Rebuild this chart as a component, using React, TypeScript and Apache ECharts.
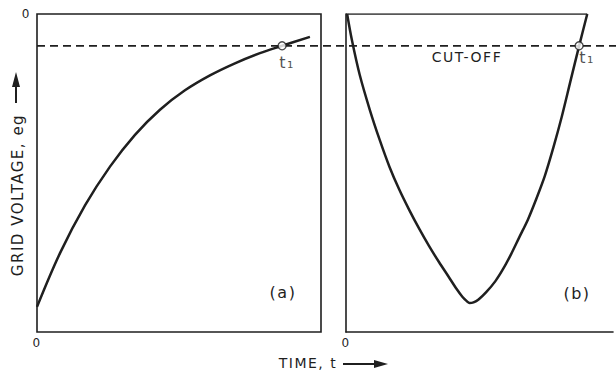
import React, { useEffect, useRef } from "react";
import * as echarts from "echarts";

// Panel (a): rise of grid voltage toward zero
const curveATime = [0, 0.81, 1.69, 2.57, 3.45, 4.33, 5.21, 6.09, 6.97, 7.85, 8.63, 9.61];
const curveAVolt = [-9.21, -7.52, -6.02, -4.8, -3.8, -3.01, -2.4, -1.93, -1.55, -1.23, -1.0, -0.72];

// Panel (b): swing of grid voltage down and back up
const curveBTime = [0.04, 0.21, 0.49, 0.85, 1.2, 1.55, 1.9, 2.25, 2.61, 2.96, 3.31, 3.66, 3.94, 4.15, 4.3, 4.4,
  4.54, 4.72, 5.0, 5.32, 5.6, 5.88, 6.16, 6.48, 6.76, 7.08, 7.39, 7.68, 7.99, 8.31, 8.59];
const curveBVolt = [0, -0.82, -1.92, -3.02, -3.96, -4.81, -5.53, -6.16, -6.76, -7.3, -7.8, -8.27, -8.65, -8.9, -9.03, -9.09,
  -9.07, -8.98, -8.74, -8.4, -8.01, -7.55, -7.04, -6.46, -5.85, -5.09, -4.18, -3.24, -2.12, -0.97, 0];

const cutoffVolt = -1.0;
const cutoffSpan = [0, 20.39];
const t1A = 8.63;
const t1B = 8.3;
const topBorderB = [0, 8.59];
const axisTickLabels = ["0"];
const t1Text = "t\u2081";

const ink = "#1f1f1f";
const font = "DejaVu Sans";

export default function App() {
  const ref = useRef<HTMLDivElement>(null);
  useEffect(() => {
    if (!ref.current) return;
    const chart = echarts.init(ref.current, undefined, { renderer: "svg" });
    const zeroLabel = (v: number) => (v === 0 ? axisTickLabels[0] : "");
    const baseX = {
      type: "value",
      min: 0,
      interval: 10,
      axisTick: { show: false },
      splitLine: { show: false },
      axisLabel: { formatter: zeroLabel, margin: 5, color: ink, fontSize: 12, fontFamily: font },
    };
    const baseY = {
      type: "value",
      min: -10,
      max: 0,
      interval: 10,
      axisTick: { show: false },
      splitLine: { show: false },
    };
    const t1Label = (offset: number[]) => ({
      show: true,
      position: "bottom",
      distance: 4,
      offset,
      formatter: t1Text,
      fontSize: 16,
      color: ink,
      fontFamily: font,
    });
    const option: any = {
      animation: false,
      backgroundColor: "#ffffff",
      textStyle: { fontFamily: font },
      grid: [
        { left: 37, top: 14, width: 284, height: 318, show: true, borderColor: ink, borderWidth: 1.6, backgroundColor: "transparent" },
        { left: 346, top: 14, width: 270, height: 318 },
        { left: 37, top: 14, width: 579, height: 318 },
      ],
      xAxis: [
        { ...baseX, gridIndex: 0, max: 10, axisLine: { show: false } },
        { ...baseX, gridIndex: 1, max: 9.507, axisLine: { show: true, onZero: false, lineStyle: { color: ink, width: 1.6 } } },
        { type: "value", gridIndex: 2, min: 0, max: 20.39, show: false },
      ],
      yAxis: [
        {
          ...baseY,
          gridIndex: 0,
          axisLine: { show: false },
          axisLabel: { formatter: zeroLabel, margin: 6, color: ink, fontSize: 12, fontFamily: font },
        },
        {
          ...baseY,
          gridIndex: 1,
          axisLine: { show: true, onZero: false, lineStyle: { color: ink, width: 1.6 } },
          axisLabel: { show: false },
        },
        { type: "value", gridIndex: 2, min: -10, max: 0, show: false },
      ],
      series: [
        {
          type: "line",
          xAxisIndex: 2,
          yAxisIndex: 2,
          symbol: "none",
          data: cutoffSpan.map((t) => [t, cutoffVolt]),
          lineStyle: { color: ink, width: 1.8, type: [8, 5] },
          z: 1,
        },
        {
          type: "line",
          xAxisIndex: 1,
          yAxisIndex: 1,
          symbol: "none",
          data: topBorderB.map((t) => [t, 0]),
          lineStyle: { color: ink, width: 1.6 },
        },
        {
          type: "line",
          xAxisIndex: 0,
          yAxisIndex: 0,
          symbol: "none",
          smooth: 0.35,
          data: curveATime.map((t, i) => [t, curveAVolt[i]]),
          lineStyle: { color: ink, width: 2.5 },
          z: 3,
        },
        {
          type: "line",
          xAxisIndex: 1,
          yAxisIndex: 1,
          symbol: "none",
          smooth: 0.3,
          clip: false,
          data: curveBTime.map((t, i) => [t, curveBVolt[i]]),
          lineStyle: { color: ink, width: 2.5 },
          z: 3,
        },
        {
          type: "scatter",
          xAxisIndex: 0,
          yAxisIndex: 0,
          symbol: "circle",
          symbolSize: 8,
          data: [[t1A, cutoffVolt]],
          itemStyle: { color: "#ffffff", borderColor: ink, borderWidth: 1.4 },
          label: t1Label([5, 0]),
          z: 5,
        },
        {
          type: "scatter",
          xAxisIndex: 1,
          yAxisIndex: 1,
          symbol: "circle",
          symbolSize: 8,
          data: [[t1B, cutoffVolt]],
          itemStyle: { color: "#ffffff", borderColor: ink, borderWidth: 1.4 },
          label: t1Label([8, -5]),
          z: 5,
        },
      ],
      graphic: [
        {
          type: "text",
          x: 18,
          y: 195,
          rotation: Math.PI / 2,
          style: { text: "GRID VOLTAGE, eg", fill: ink, font: `15px '${font}'`, align: "center", verticalAlign: "middle" },
        },
        { type: "line", shape: { x1: 16, y1: 103, x2: 16, y2: 84 }, style: { stroke: ink, lineWidth: 2 } },
        { type: "polygon", shape: { points: [[16, 72], [12, 87], [20, 87]] }, style: { fill: ink } },
        {
          type: "text",
          x: 308,
          y: 363,
          style: { text: "TIME, t", fill: ink, font: `14px '${font}'`, align: "center", verticalAlign: "middle" },
        },
        { type: "line", shape: { x1: 343, y1: 364, x2: 376, y2: 364 }, style: { stroke: ink, lineWidth: 2 } },
        { type: "polygon", shape: { points: [[388, 364], [374, 360], [374, 368]] }, style: { fill: ink } },
        {
          type: "text",
          x: 467,
          y: 57,
          style: { text: "CUT-OFF", fill: ink, font: `14px '${font}'`, align: "center", verticalAlign: "middle" },
        },
        {
          type: "text",
          x: 283,
          y: 292,
          style: { text: "(a)", fill: ink, font: `16px '${font}'`, align: "center", verticalAlign: "middle" },
        },
        {
          type: "text",
          x: 577,
          y: 293,
          style: { text: "(b)", fill: ink, font: `16px '${font}'`, align: "center", verticalAlign: "middle" },
        },
      ],
    };
    chart.setOption(option);
    return () => chart.dispose();
  }, []);
  return (
    <div
      ref={ref}
      style={{ position: "fixed", left: 0, top: 0, width: 616, height: 375, letterSpacing: "1.5px" }}
    />
  );
}
